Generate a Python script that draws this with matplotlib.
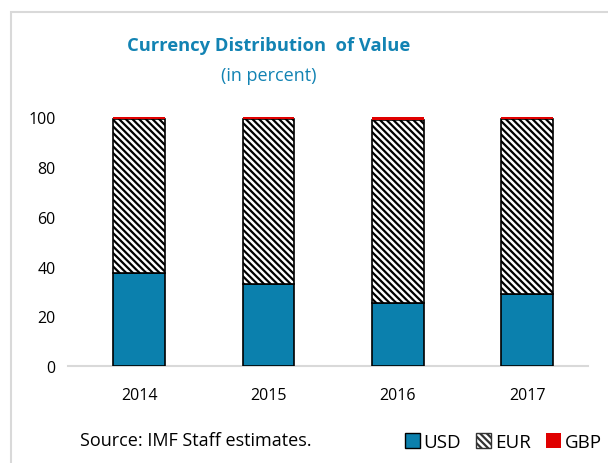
import matplotlib.pyplot as plt
from matplotlib.patches import Rectangle, Patch

plt.rcParams['font.family'] = ['Open Sans', 'DejaVu Sans']
plt.rcParams['hatch.linewidth'] = 1.6
plt.rcParams['hatch.color'] = '#4a4a4a'

# values (percent)
years = ['2014', '2015', '2016', '2017']
usd = [37.3, 32.9, 25.2, 28.9]
eur = [62.1, 66.5, 73.8, 70.5]
gbp = [0.6, 0.6, 1.0, 0.6]

blue = '#0b80ad'
title_col = '#1283b3'

fig = plt.figure(figsize=(6.08, 4.64), dpi=100)
ax = fig.add_axes([68 / 608, 1 - 367 / 464, 520 / 608, 248.7 / 464])

x = range(len(years))
w = 0.40
ax.bar(x, usd, w, color=blue, edgecolor='black', linewidth=1.2, zorder=2)
ax.bar(x, eur, w, bottom=usd, color='white', edgecolor='black',
       hatch='\\\\\\\\\\', linewidth=1.2, zorder=2)
b_gbp = [u + e for u, e in zip(usd, eur)]
ax.bar(x, gbp, w, bottom=b_gbp, color='#e00000', linewidth=0,
       zorder=3, clip_on=False)

ax.set_xlim(-0.55, 3.47)
ax.set_ylim(0, 100)
ax.set_yticks([0, 20, 40, 60, 80, 100])
ax.set_xticks(list(x))
ax.set_xticklabels(years)
ax.tick_params(axis='both', length=0, labelsize=11.5, colors='black')
ax.tick_params(axis='x', pad=15)
ax.tick_params(axis='y', pad=9)
for s in ['top', 'right', 'left']:
    ax.spines[s].set_visible(False)
ax.spines['bottom'].set_color('#d9d9d9')
ax.spines['bottom'].set_linewidth(1.5)
ax.spines['bottom'].set_zorder(1)

# grey frame round the chart
fig.patches.append(Rectangle((11 / 608, -0.1), 1.2, 1 - 13 / 464 + 0.1,
                             transform=fig.transFigure, fill=False,
                             edgecolor='#d9d9d9', linewidth=1.5))

fig.text(269 / 608, 1 - 46 / 464, 'Currency Distribution  of Value',
         ha='center', va='center', fontsize=13.2, fontweight='bold',
         color=title_col)
fig.text(269 / 608, 1 - 76 / 464, '(in percent)', ha='center', va='center',
         fontsize=13, color=title_col)
fig.text(80 / 608, 1 - 441 / 464, 'Source: IMF Staff estimates.',
         ha='left', va='center', fontsize=13)

handles = [Patch(facecolor=blue, edgecolor='black', linewidth=1),
           Patch(facecolor='white', edgecolor='#333333', hatch='\\\\\\\\\\',
                 linewidth=1),
           Patch(facecolor='#e00000', edgecolor='none')]
fig.legend(handles, ['USD', 'EUR', 'GBP'], ncol=3, frameon=False,
           loc='center right', bbox_to_anchor=(611 / 608, 1 - 443 / 464),
           fontsize=13.5, handlelength=0.8, handleheight=0.8,
           handletextpad=0.2, columnspacing=0.8, borderpad=0)

fig.savefig('out.png', dpi=100)
